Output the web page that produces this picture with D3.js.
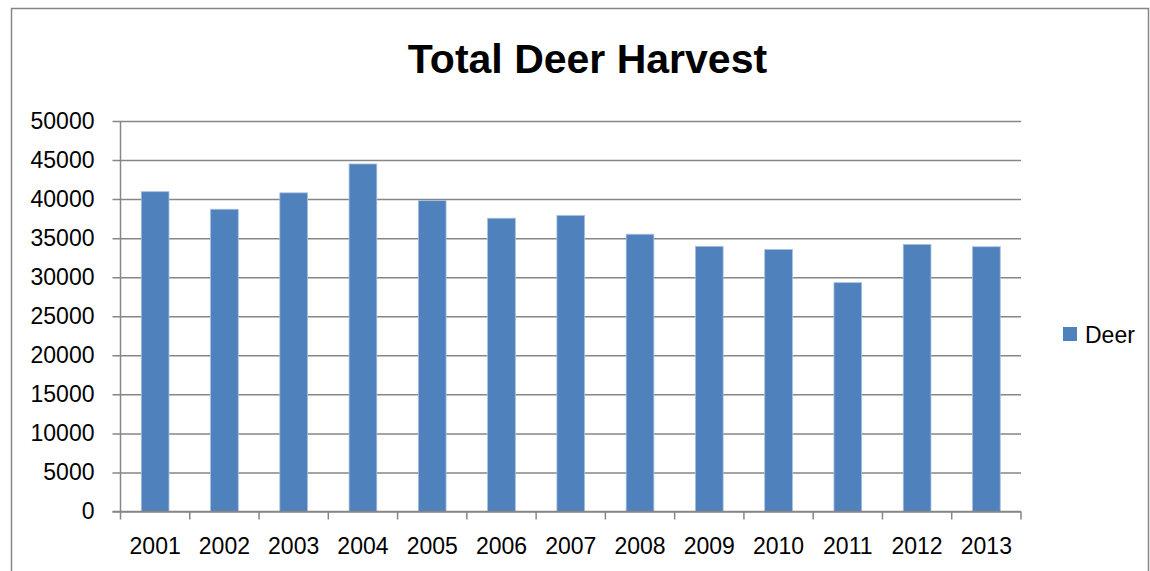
<!doctype html>
<html lang="en">
<head>
  <meta charset="UTF-8">
  <title>Total Deer Harvest</title>
  <script src="https://cdn.jsdelivr.net/npm/d3@7/dist/d3.min.js"></script>
  <style>
    html, body { margin: 0; padding: 0; background: #fff; }
    svg { display: block; font-family: "Liberation Sans", Arial, sans-serif; }
  </style>
</head>
<body>
<div id="chart"></div>
<script>
  // data
  var years = ["2001", "2002", "2003", "2004", "2005", "2006", "2007",
               "2008", "2009", "2010", "2011", "2012", "2013"];
  var deer = [40950, 38700, 40800, 44500, 39800, 37550, 37900,
              35500, 33950, 33550, 29300, 34200, 33900];
  var yTicks = [0, 5000, 10000, 15000, 20000, 25000, 30000, 35000, 40000, 45000, 50000];

  var width = 1150, height = 571;
  var plot = {left: 120.5, right: 1021, top: 121, bottom: 511.5};

  var svg = d3.select("#chart").append("svg")
      .attr("width", width)
      .attr("height", height);

  // chart frame
  svg.append("rect")
      .attr("x", 11.5).attr("y", 8.5)
      .attr("width", 1137).attr("height", 620)
      .attr("fill", "none")
      .attr("stroke", "#868686")
      .attr("stroke-width", 1.5);

  svg.append("text")
      .attr("x", 587.5).attr("y", 73)
      .attr("text-anchor", "middle")
      .style("font-size", "41px")
      .style("font-weight", "bold")
      .text("Total Deer Harvest");

  var x = d3.scaleBand()
      .domain(years)
      .range([plot.left, plot.right])
      .paddingInner(0.6)
      .paddingOuter(0.3);

  var y = d3.scaleLinear()
      .domain([0, 50000])
      .range([plot.bottom, plot.top]);

  // gridlines + y axis
  var yAxis = svg.append("g")
      .attr("transform", "translate(" + plot.left + ",0)")
      .call(d3.axisLeft(y).tickValues(yTicks).tickFormat(d3.format("d"))
        .tickSize(8).tickPadding(18));
  yAxis.select(".domain").remove();
  yAxis.selectAll(".tick line")
      .attr("x1", -8)
      .attr("x2", plot.right - plot.left)
      .attr("stroke", "#868686")
      .attr("stroke-width", 1.5);
  yAxis.selectAll(".tick text")
      .attr("fill", "#000")
      .style("font-size", "23px")
      .style("font-family", "Liberation Sans, Arial, sans-serif");

  // bars
  svg.append("g").selectAll("rect")
      .data(years)
      .join("rect")
      .attr("x", function(d) { return x(d); })
      .attr("width", x.bandwidth())
      .attr("y", function(d, i) { return y(deer[i]); })
      .attr("height", function(d, i) { return y(0) - y(deer[i]); })
      .attr("fill", "#4f81bd")
      .attr("stroke", "#a7bfdf")
      .attr("stroke-width", 0.8);

  // y axis line
  svg.append("line")
      .attr("x1", plot.left).attr("x2", plot.left)
      .attr("y1", plot.top).attr("y2", plot.bottom)
      .attr("stroke", "#868686")
      .attr("stroke-width", 1.5);

  // x axis with boundary ticks
  var step = (plot.right - plot.left) / years.length;
  var xg = svg.append("g");
  xg.append("line")
      .attr("x1", plot.left - 8).attr("x2", plot.right)
      .attr("y1", plot.bottom).attr("y2", plot.bottom)
      .attr("stroke", "#868686")
      .attr("stroke-width", 1.5);
  xg.selectAll(".xtick")
      .data(d3.range(years.length + 1))
      .join("line")
      .attr("x1", function(i) { return plot.left + i * step; })
      .attr("x2", function(i) { return plot.left + i * step; })
      .attr("y1", plot.bottom)
      .attr("y2", plot.bottom + 8)
      .attr("stroke", "#868686")
      .attr("stroke-width", 1.5);
  xg.selectAll(".xlabel")
      .data(years)
      .join("text")
      .attr("x", function(d) { return x(d) + x.bandwidth() / 2; })
      .attr("y", 554)
      .attr("text-anchor", "middle")
      .style("font-size", "23px")
      .text(function(d) { return d; });

  // legend
  var legend = svg.append("g").attr("transform", "translate(1063,327)");
  legend.append("rect")
      .attr("width", 14).attr("height", 14)
      .attr("fill", "#4f81bd");
  legend.append("text")
      .attr("x", 22).attr("y", 15.5)
      .style("font-size", "23px")
      .text("Deer");
</script>
</body>
</html>
